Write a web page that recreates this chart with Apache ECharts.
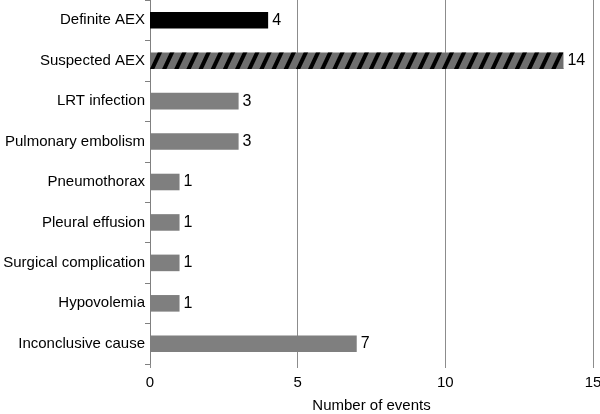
<!DOCTYPE html>
<html>
<head>
<meta charset="utf-8">
<script src="https://cdn.jsdelivr.net/npm/echarts@6/dist/echarts.min.js"></script>
<style>
html, body { margin: 0; padding: 0; background: #fff; }
#main { width: 600px; height: 414px; }
</style>
</head>
<body>
<div id="main"></div>
<script>
var categories = ['Definite AEX', 'Suspected AEX', 'LRT infection', 'Pulmonary embolism',
	'Pneumothorax', 'Pleural effusion', 'Surgical complication', 'Hypovolemia', 'Inconclusive cause'];
var events = [4, 14, 3, 3, 1, 1, 1, 1, 7];
var xTicks = [0, 5, 10, 15];

var barData = events.map(function (v, i) {
	var item = { value: v };
	if (i === 0) {
		item.itemStyle = { color: '#000' };
	} else if (i === 1) {
		// hatched bar: black "/" stripes on gray
		item.itemStyle = {
			color: '#6f6f6f',
			decal: {
				symbol: 'rect',
				color: '#000',
				dashArrayX: [1, 0],
				dashArrayY: [4, 7],
				rotation: -1.13
			}
		};
	}
	return item;
});

var option = {
	animation: false,
	textStyle: { fontFamily: 'Liberation Sans, Arial, sans-serif' },
	grid: { left: 150, right: 7, top: 0, bottom: 50, outerBoundsMode: 'none' },
	xAxis: {
		type: 'value',
		min: xTicks[0],
		max: xTicks[xTicks.length - 1],
		interval: 5,
		name: 'Number of events',
		nameLocation: 'middle',
		nameGap: 34,
		nameTextStyle: { color: '#000', fontSize: 15 },
		axisLine: { show: false },
		axisTick: { show: true, length: 4, lineStyle: { color: '#8c8c8c' } },
		axisLabel: { color: '#000', fontSize: 15, margin: 11 },
		splitLine: { show: true, lineStyle: { color: '#8c8c8c', width: 1 } }
	},
	yAxis: {
		type: 'category',
		inverse: true,
		data: categories,
		axisLine: { show: true, lineStyle: { color: '#808080', width: 1 } },
		axisTick: { show: true, length: 5, lineStyle: { color: '#808080' } },
		axisLabel: { color: '#000', fontSize: 15, margin: 5 }
	},
	series: [{
		type: 'bar',
		data: barData,
		barCategoryGap: '59%',
		itemStyle: { color: '#7f7f7f' },
		label: { show: true, position: 'right', color: '#000', fontSize: 16, distance: 4 }
	}]
};

var myChart = echarts.init(document.getElementById('main'));
myChart.setOption(option);
</script>
</body>
</html>
